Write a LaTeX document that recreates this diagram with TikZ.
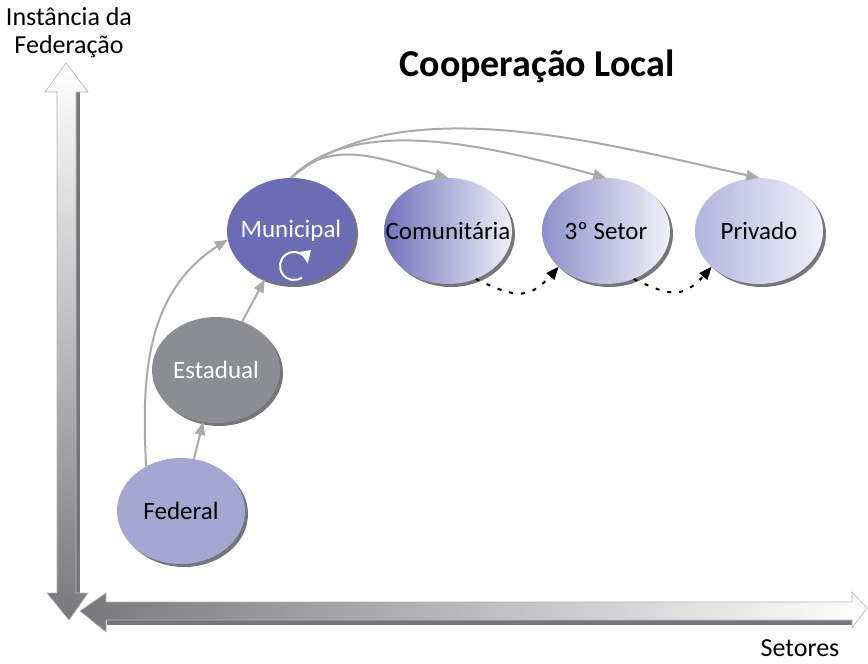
\documentclass[tikz,border=0pt]{standalone}
\usepackage{fontspec}
\setmainfont{Carlito}
\usepackage{tikz}
\usetikzlibrary{arrows,shapes,positioning,shadows}
\definecolor{mungblue}{RGB}{106,108,180}
\definecolor{comblue}{RGB}{112,114,186}
\definecolor{terblue}{RGB}{142,144,202}
\definecolor{priblue}{RGB}{178,180,222}
\definecolor{fedblue}{RGB}{165,167,211}
\definecolor{estgray}{RGB}{140,141,146}
\definecolor{edgewhite}{RGB}{240,240,248}
\definecolor{linkgray}{RGB}{170,170,172}
\definecolor{shadowgray}{RGB}{118,118,122}
\definecolor{axisgray}{RGB}{120,120,125}
\tikzstyle{sphere} = [ellipse, minimum width=128pt, minimum height=106pt, inner xsep=-20pt, inner ysep=0pt, font=\fontsize{25}{28}\selectfont, drop shadow={shadow xshift=3pt, shadow yshift=-3pt, fill=shadowgray, opacity=1}]
\tikzstyle{link} = [line width=2pt, ->, >=triangle 45, color=linkgray]
\tikzstyle{hop} = [line width=2pt, ->, >=triangle 45, dash pattern=on 4pt off 8pt]
\tikzstyle{label} = [font=\fontsize{26}{28}\selectfont, align=center]

\begin{document}
\begin{tikzpicture}[x=1pt, y=1pt]
\useasboundingbox (0,0) rectangle (868,-664);

% Axes
\fill[shadowgray] (75,-92) rectangle (80,-593);
\shade[top color=white, bottom color=axisgray, draw=gray!60, line width=0.6pt]
  (66,-63) -- (88,-92) -- (76,-92) -- (76,-593) -- (88,-593) -- (69,-620)
  -- (47,-593) -- (57,-593) -- (57,-92) -- (45,-92) -- cycle;
\fill[shadowgray] (107,-619) rectangle (852,-625);
\shade[left color=axisgray, right color=white, draw=gray!60, line width=0.6pt]
  (80,-611) -- (106,-593) -- (106,-602) -- (852,-602) -- (852,-592) -- (867,-608)
  -- (852,-628) -- (852,-620) -- (106,-620) -- (106,-632) -- cycle;

% Labels
\node[label] (yaxis) at (69,-33) {Instância da\\Federação};
\node[label] (xaxis) at (800,-648) {Setores};
\node[font=\fontsize{38}{44}\selectfont\bfseries] (title) at (537,-66) {Cooperação Local};

% Federation levels
\node[sphere, fill=fedblue] (fed) at (181,-511) {Federal};
\node[sphere, fill=estgray, text=white] (est) at (216,-370) {Estadual};
\node[sphere, fill=mungblue, text=white] (mun) at (291,-231) {Municipal};

% Sectors
\node[sphere, left color=comblue, middle color=comblue!80!edgewhite, right color=edgewhite] (com) at (448,-231) {Comunitária};
\node[sphere, left color=terblue, middle color=terblue!75!edgewhite, right color=edgewhite] (ter) at (606,-231) {3º Setor};
\node[sphere, left color=priblue, middle color=priblue!75!edgewhite, right color=edgewhite] (pri) at (759,-231) {Privado};

% Cycle inside Municipal
\draw[white, line width=2pt, ->, >=triangle 45] (mun.center) ++(3,-35) ++(-55:14) arc[start angle=-55, end angle=-350, radius=14];

% Connections
\draw[link] (fed) -- (est);
\draw[link] (est) -- (mun);
\draw[link] (fed.128) to[out=93, in=210] (mun.188);

\draw[link] (mun.north) to[out=45, in=165] (com.north);
\draw[link] (mun.north) to[out=45, in=165, looseness=0.8] (ter.north);
\draw[link] (mun.north) to[out=40, in=168, looseness=0.8] (pri.north);

\draw[hop] (com.300) to[out=-25, in=230, looseness=1.4] (ter.217);
\draw[hop] (ter.300) to[out=-25, in=230, looseness=1.4] (pri.217);
\end{tikzpicture}
\end{document}
